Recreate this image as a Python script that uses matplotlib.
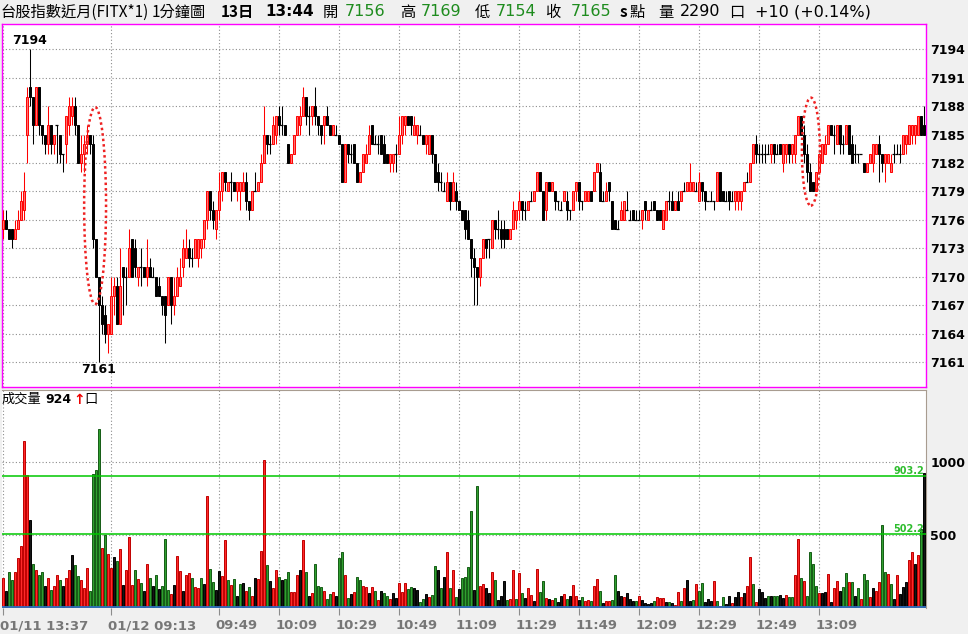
import matplotlib
matplotlib.use('Agg')
import matplotlib.pyplot as plt
import matplotlib.transforms as mtransforms
from matplotlib.patches import Ellipse
import numpy as np

# ---- 1-minute bars (01/11 13:37 .. 01/12 13:44) ----
opens = [
    7175, 7176, 7175, 7175, 7174, 7175, 7176, 7177, 7185, 7190,
    7189, 7186, 7190, 7186, 7185, 7184, 7186, 7184, 7186, 7185,
    7183, 7184, 7186, 7187, 7188, 7186, 7182, 7183, 7184, 7185,
    7184, 7174, 7170, 7167, 7166, 7164, 7164, 7168, 7169, 7165,
    7171, 7170, 7170, 7174, 7173, 7170, 7171, 7171, 7170, 7171,
    7170, 7170, 7169, 7168, 7168, 7167, 7170, 7167, 7168, 7169,
    7171, 7172, 7173, 7172, 7172, 7172, 7173, 7174, 7176, 7179,
    7177, 7175, 7177, 7179, 7181, 7179, 7180, 7180, 7179, 7179,
    7179, 7180, 7178, 7177, 7179, 7179, 7180, 7182, 7185, 7184,
    7184, 7185, 7187, 7186, 7186, 7184, 7182, 7183, 7185, 7186,
    7187, 7189, 7187, 7187, 7188, 7187, 7186, 7186, 7187, 7186,
    7185, 7185, 7185, 7184, 7180, 7184, 7183, 7184, 7182, 7180,
    7181, 7182, 7183, 7186, 7184, 7184, 7185, 7184, 7183, 7182,
    7182, 7183, 7183, 7185, 7186, 7187, 7187, 7185, 7185, 7185,
    7185, 7184, 7183, 7185, 7183, 7181, 7180, 7179, 7178, 7180,
    7178, 7179, 7178, 7177, 7177, 7176, 7174, 7172, 7171, 7170,
    7172, 7174, 7174, 7173, 7176, 7175, 7175, 7175, 7175, 7174,
    7175, 7176, 7177, 7178, 7177, 7177, 7178, 7178, 7179, 7181,
    7179, 7177, 7180, 7179, 7179, 7178, 7177, 7178, 7178, 7177,
    7177, 7179, 7180, 7178, 7178, 7178, 7179, 7179, 7181, 7181,
    7178, 7178, 7180, 7178, 7176, 7175, 7176, 7176, 7177, 7176,
    7177, 7176, 7176, 7176, 7178, 7176, 7177, 7178, 7177, 7177,
    7175, 7176, 7178, 7178, 7177, 7178, 7178, 7179, 7179, 7179,
    7179, 7179, 7178, 7180, 7179, 7178, 7178, 7178, 7178, 7181,
    7179, 7178, 7179, 7178, 7178, 7178, 7178, 7179, 7180, 7180,
    7182, 7184, 7183, 7183, 7183, 7183, 7183, 7184, 7183, 7184,
    7182, 7183, 7184, 7183, 7183, 7185, 7187, 7185, 7183, 7181,
    7180, 7179, 7181, 7182, 7183, 7184, 7186, 7185, 7184, 7186,
    7184, 7184, 7186, 7184, 7183, 7183, 7183, 7182, 7181, 7182,
    7182, 7183, 7184, 7183, 7182, 7182, 7181, 7183, 7183, 7183,
    7183, 7184, 7184, 7185, 7185, 7185, 7187, 7186]
highs = [
    7177, 7177, 7175, 7175, 7176, 7177, 7179, 7181, 7190, 7194,
    7189, 7190, 7190, 7186, 7185, 7188, 7186, 7185, 7186, 7185,
    7183, 7187, 7189, 7189, 7189, 7186, 7185, 7185, 7186, 7185,
    7185, 7174, 7170, 7168, 7167, 7165, 7170, 7170, 7170, 7173,
    7171, 7171, 7175, 7174, 7174, 7171, 7173, 7171, 7174, 7172,
    7171, 7170, 7170, 7168, 7168, 7170, 7170, 7170, 7171, 7172,
    7174, 7175, 7174, 7173, 7174, 7174, 7174, 7176, 7179, 7179,
    7178, 7177, 7181, 7181, 7181, 7180, 7181, 7180, 7180, 7180,
    7181, 7181, 7178, 7179, 7181, 7180, 7183, 7188, 7185, 7185,
    7187, 7187, 7188, 7188, 7186, 7184, 7183, 7185, 7187, 7188,
    7190, 7189, 7188, 7188, 7190, 7187, 7186, 7187, 7188, 7186,
    7186, 7186, 7185, 7184, 7184, 7184, 7184, 7184, 7182, 7181,
    7183, 7184, 7186, 7186, 7185, 7185, 7185, 7185, 7183, 7183,
    7183, 7184, 7187, 7187, 7187, 7187, 7187, 7187, 7186, 7186,
    7185, 7185, 7185, 7185, 7183, 7182, 7181, 7180, 7181, 7180,
    7181, 7180, 7178, 7177, 7177, 7177, 7174, 7173, 7171, 7172,
    7174, 7174, 7174, 7176, 7176, 7177, 7176, 7176, 7175, 7175,
    7178, 7177, 7179, 7178, 7178, 7178, 7179, 7179, 7181, 7181,
    7179, 7180, 7180, 7180, 7179, 7178, 7178, 7179, 7179, 7177,
    7179, 7180, 7180, 7178, 7179, 7179, 7179, 7181, 7182, 7182,
    7179, 7180, 7180, 7178, 7176, 7176, 7178, 7178, 7179, 7177,
    7177, 7177, 7177, 7177, 7178, 7177, 7178, 7178, 7177, 7177,
    7177, 7178, 7179, 7179, 7178, 7179, 7179, 7180, 7180, 7182,
    7180, 7180, 7181, 7180, 7179, 7178, 7179, 7178, 7181, 7181,
    7179, 7179, 7179, 7179, 7179, 7179, 7179, 7180, 7181, 7182,
    7184, 7185, 7184, 7184, 7184, 7184, 7184, 7184, 7184, 7184,
    7184, 7184, 7184, 7184, 7185, 7187, 7187, 7186, 7184, 7182,
    7180, 7181, 7183, 7184, 7185, 7186, 7186, 7186, 7186, 7186,
    7185, 7186, 7186, 7185, 7184, 7183, 7183, 7182, 7182, 7183,
    7184, 7184, 7185, 7183, 7183, 7183, 7183, 7184, 7184, 7184,
    7185, 7185, 7186, 7186, 7186, 7187, 7187, 7188]
lows = [
    7174, 7175, 7174, 7173, 7174, 7175, 7176, 7176, 7182, 7188,
    7184, 7186, 7185, 7184, 7183, 7183, 7183, 7183, 7182, 7182,
    7181, 7182, 7185, 7186, 7185, 7182, 7181, 7181, 7183, 7183,
    7173, 7170, 7161, 7164, 7163, 7162, 7164, 7166, 7165, 7165,
    7166, 7167, 7170, 7170, 7170, 7169, 7169, 7170, 7169, 7170,
    7170, 7168, 7168, 7166, 7163, 7167, 7165, 7166, 7168, 7169,
    7170, 7172, 7171, 7171, 7172, 7171, 7172, 7173, 7175, 7176,
    7175, 7174, 7176, 7178, 7179, 7179, 7178, 7179, 7178, 7177,
    7179, 7177, 7176, 7177, 7179, 7179, 7180, 7182, 7183, 7183,
    7184, 7184, 7185, 7185, 7185, 7182, 7182, 7183, 7185, 7185,
    7187, 7186, 7185, 7186, 7186, 7185, 7184, 7184, 7186, 7185,
    7185, 7185, 7184, 7180, 7180, 7182, 7182, 7182, 7180, 7180,
    7181, 7182, 7183, 7184, 7184, 7183, 7183, 7182, 7182, 7181,
    7181, 7181, 7183, 7184, 7185, 7186, 7185, 7185, 7184, 7185,
    7184, 7183, 7183, 7182, 7180, 7179, 7179, 7179, 7178, 7177,
    7178, 7177, 7177, 7176, 7174, 7174, 7170, 7167, 7167, 7169,
    7172, 7172, 7172, 7173, 7174, 7174, 7173, 7173, 7174, 7174,
    7175, 7175, 7176, 7176, 7176, 7177, 7178, 7178, 7179, 7179,
    7176, 7176, 7179, 7179, 7177, 7177, 7177, 7178, 7176, 7176,
    7177, 7178, 7177, 7177, 7178, 7178, 7178, 7179, 7181, 7178,
    7178, 7178, 7178, 7175, 7175, 7175, 7176, 7176, 7177, 7176,
    7176, 7176, 7176, 7175, 7176, 7176, 7177, 7177, 7176, 7176,
    7175, 7176, 7177, 7177, 7177, 7177, 7178, 7179, 7179, 7179,
    7179, 7179, 7178, 7178, 7177, 7178, 7178, 7177, 7178, 7178,
    7178, 7178, 7177, 7178, 7177, 7177, 7177, 7179, 7180, 7180,
    7182, 7182, 7182, 7182, 7182, 7183, 7182, 7182, 7183, 7183,
    7181, 7182, 7182, 7182, 7182, 7185, 7185, 7182, 7180, 7179,
    7179, 7179, 7181, 7182, 7183, 7184, 7185, 7183, 7184, 7183,
    7183, 7184, 7183, 7182, 7182, 7182, 7183, 7181, 7181, 7182,
    7181, 7183, 7180, 7181, 7180, 7182, 7181, 7182, 7183, 7182,
    7183, 7183, 7184, 7184, 7184, 7185, 7185, 7185]
closes = [
    7176, 7175, 7174, 7174, 7175, 7176, 7178, 7179, 7189, 7189,
    7186, 7190, 7186, 7185, 7184, 7186, 7184, 7185, 7186, 7183,
    7183, 7187, 7188, 7188, 7186, 7182, 7183, 7184, 7185, 7184,
    7174, 7170, 7167, 7165, 7164, 7165, 7168, 7169, 7165, 7169,
    7170, 7170, 7173, 7170, 7171, 7171, 7171, 7170, 7171, 7170,
    7170, 7168, 7168, 7167, 7166, 7170, 7167, 7168, 7170, 7170,
    7173, 7173, 7172, 7172, 7174, 7174, 7174, 7176, 7179, 7177,
    7176, 7177, 7179, 7181, 7180, 7180, 7180, 7179, 7180, 7180,
    7180, 7178, 7177, 7179, 7179, 7180, 7182, 7185, 7184, 7184,
    7186, 7187, 7186, 7186, 7185, 7182, 7183, 7185, 7187, 7187,
    7189, 7187, 7187, 7188, 7187, 7186, 7185, 7187, 7186, 7185,
    7186, 7185, 7184, 7180, 7184, 7183, 7183, 7182, 7180, 7181,
    7183, 7183, 7185, 7184, 7184, 7184, 7183, 7182, 7182, 7183,
    7183, 7183, 7185, 7187, 7187, 7186, 7186, 7186, 7186, 7185,
    7184, 7185, 7185, 7183, 7180, 7180, 7180, 7179, 7180, 7178,
    7180, 7178, 7177, 7176, 7175, 7174, 7172, 7171, 7170, 7172,
    7174, 7173, 7174, 7176, 7175, 7175, 7174, 7174, 7174, 7175,
    7177, 7177, 7178, 7177, 7177, 7178, 7178, 7179, 7181, 7179,
    7176, 7180, 7179, 7180, 7178, 7178, 7177, 7179, 7177, 7177,
    7179, 7180, 7178, 7178, 7179, 7179, 7178, 7181, 7182, 7178,
    7178, 7179, 7179, 7175, 7175, 7175, 7177, 7178, 7177, 7176,
    7176, 7176, 7176, 7177, 7177, 7177, 7177, 7177, 7176, 7176,
    7177, 7178, 7178, 7177, 7178, 7177, 7179, 7179, 7180, 7180,
    7180, 7179, 7180, 7179, 7178, 7178, 7178, 7178, 7181, 7178,
    7178, 7178, 7178, 7178, 7179, 7179, 7179, 7180, 7180, 7182,
    7184, 7183, 7183, 7183, 7183, 7183, 7184, 7183, 7183, 7183,
    7184, 7184, 7183, 7184, 7185, 7187, 7185, 7183, 7181, 7179,
    7179, 7181, 7183, 7184, 7184, 7186, 7185, 7185, 7186, 7184,
    7184, 7186, 7183, 7182, 7183, 7183, 7183, 7181, 7182, 7183,
    7184, 7184, 7183, 7182, 7183, 7183, 7182, 7183, 7183, 7183,
    7185, 7185, 7186, 7186, 7186, 7187, 7185, 7185]
volumes = [
    205, 113, 242, 189, 242, 343, 421, 1145, 911, 602,
    299, 258, 224, 242, 148, 205, 120, 148, 224, 189,
    148, 205, 258, 359, 292, 217, 189, 136, 273, 113,
    916, 946, 1228, 407, 499, 368, 273, 349, 320, 403,
    155, 258, 482, 155, 258, 196, 166, 113, 299, 201,
    148, 224, 127, 148, 471, 120, 90, 155, 354, 251,
    113, 224, 235, 205, 143, 132, 205, 162, 767, 265,
    173, 120, 251, 219, 464, 189, 155, 196, 79, 162,
    166, 113, 143, 81, 203, 194, 389, 1014, 292, 182,
    134, 258, 210, 189, 196, 242, 104, 104, 224, 258,
    464, 242, 79, 97, 299, 148, 141, 113, 58, 93,
    104, 79, 343, 382, 224, 65, 93, 107, 210, 189,
    148, 141, 100, 141, 113, 52, 113, 100, 79, 58,
    100, 65, 168, 107, 168, 127, 141, 134, 120, 38,
    58, 93, 72, 86, 285, 258, 134, 210, 382, 134,
    258, 72, 127, 203, 210, 280, 664, 120, 836, 148,
    161, 134, 100, 244, 189, 52, 79, 182, 52, 58,
    258, 58, 235, 100, 65, 134, 86, 45, 265, 107,
    182, 65, 58, 52, 65, 38, 79, 93, 58, 79,
    155, 79, 52, 72, 45, 52, 45, 148, 196, 113,
    31, 45, 45, 52, 224, 113, 79, 72, 100, 58,
    45, 45, 79, 52, 31, 24, 31, 45, 72, 65,
    65, 38, 38, 31, 17, 107, 45, 134, 189, 45,
    52, 161, 113, 168, 38, 58, 45, 182, 45, 10,
    72, 24, 79, 31, 72, 107, 72, 100, 148, 347,
    161, 38, 127, 107, 65, 79, 79, 79, 79, 86,
    65, 86, 72, 72, 224, 471, 205, 183, 79, 379,
    297, 148, 97, 102, 104, 228, 36, 132, 183, 113,
    141, 235, 178, 173, 81, 132, 58, 228, 189, 72,
    132, 113, 173, 565, 242, 228, 159, 56, 224, 91,
    141, 173, 327, 379, 297, 361, 538, 924]
# r = up tick, g = down tick, k = unchanged
vol_dir = (
    "r k g g r r r r r k  g r g g k r g r r g  k r r k g g r r r g "
    "g g g r g r r k g r  k r r r g r g k r g  k g k g g g r k r r "
    "k r r g r r g k r g  g k k r r g r g k g  k r g r k r r r g k "
    "r r g k g g r r r k  r g k r g g g r g g  r k g g r g k r g g "
    "r r k r g r k g g r  k k r r r g g k k g  g k r g g k g k r g "
    "r g k g g g g k g r  r k k r g k k k g r  r g r g k r r k r g "
    "g r k r g k k r g k  r r k g r r g r r g  k r r g g k k r k k "
    "k g r k k k k g r r  r k g k r r g r k k  g r g g k k k r g r "
    "g k k r k k r k r r  g r k k k g k g g k  k r g g r r g r g g "
    "g g r k k r k r r k  g g r g k g r g g r  k r r g g r g k r k "
    "k k r r k r g k").split()

tick_bars = [0, 36, 72, 92, 112, 132, 152, 172, 192, 212, 232, 252, 272]
tick_labels = ['01/11 13:37', '01/12 09:13', '09:49', '10:09', '10:29', '10:49',
               '11:09', '11:29', '11:49', '12:09', '12:29', '12:49', '13:09']
price_ticks = list(range(7161, 7195, 3))
vol_ticks = [500, 1000]
vol_avg = [903.2, 502.2]

header = [('台股指數近月(FITX*1)', 'black', 'normal'), ('1分鐘圖', 'black', 'normal'),
          ('13日', 'black', 'bold'), ('13:44', 'black', 'bold'),
          ('開', 'black', 'normal'), ('7156', '#1e8c1e', 'normal'),
          ('高', 'black', 'normal'), ('7169', '#1e8c1e', 'normal'),
          ('低', 'black', 'normal'), ('7154', '#1e8c1e', 'normal'),
          ('收', 'black', 'normal'), ('7165', '#1e8c1e', 'normal'),
          ('s', 'black', 'bold'), ('點', 'black', 'normal'),
          ('量', 'black', 'normal'), ('2290', 'black', 'normal'),
          ('口', 'black', 'normal'), ('+10 (+0.14%)', 'black', 'normal')]
header_x = [0, 152, 221, 265, 323, 345, 400, 421, 475, 496, 545, 571, 620, 630, 658, 680, 729, 755]

# ---- figure ----
W, H = 968, 634
CJK = ['Noto Sans CJK TC', 'DejaVu Sans']
LATIN = ['DejaVu Sans', 'Noto Sans CJK TC']
fig = plt.figure(figsize=(W / 100, H / 100), dpi=100, facecolor='#f0f0f0')


def px_axes(left, top, right, bottom):
    return fig.add_axes([left / W, 1 - bottom / H, (right - left) / W, (bottom - top) / H])


def px_text(x, y, s, **kw):
    return fig.text(x / W, 1 - y / H, s, ha='left', va='center', **kw)


ax = px_axes(2, 24, 926, 387)
axv = px_axes(2, 390, 926, 608)

o, h, l, c = (np.array(a, dtype=float) for a in (opens, highs, lows, closes))
idx = np.arange(len(c))
up, dn, fl = c > o, c < o, c == o

# candles
ax.vlines(idx[up], l[up], h[up], color='#ff0000', lw=0.75, zorder=3)
ax.vlines(idx[~up], l[~up], h[~up], color='black', lw=0.75, zorder=3)
ax.bar(idx[up], (c - o)[up], bottom=o[up], width=0.75, color='#ff7070',
       edgecolor='#ff0000', linewidth=0.7, zorder=4)
ax.bar(idx[dn], (o - c)[dn], bottom=c[dn], width=0.75, color='black',
       edgecolor='black', linewidth=0.7, zorder=4)
ax.hlines(c[fl], idx[fl] - 0.5, idx[fl] + 0.5, color='black', lw=0.9, zorder=4)

xlim = (-0.233, 307.77)
ax.set_xlim(*xlim)
ax.set_ylim(7158.36, 7196.67)
ax.set_xticks(tick_bars)
ax.tick_params(axis='x', length=0, labelbottom=False)
ax.set_yticks(price_ticks)
ax.yaxis.tick_right()
ax.tick_params(axis='y', length=0, pad=3, labelsize=9)
for t in ax.get_yticklabels():
    t.set_fontweight('bold')
ax.grid(True, color='#8c8c8c', linestyle=(0, (1, 2)), lw=0.8)
ax.set_axisbelow(True)
for s in ax.spines.values():
    s.set_color('#ff00ff')
    s.set_linewidth(1)

# high / low marks
hi, lo = int(np.argmax(h)), int(np.argmin(l))
ax.annotate(f'{int(h[hi])}', (hi, h[hi]), xytext=(0, 2), textcoords='offset points',
            ha='center', va='bottom', fontsize=9, fontweight='bold')
ax.annotate(f'{int(l[lo])}', (lo, l[lo]), xytext=(0, -1), textcoords='offset points',
            ha='center', va='top', fontsize=9, fontweight='bold')

# dotted red rings around the two sharp dips
for cx, cy, w, hh in [(30.8, 7177.5, 7.3, 20.8), (269.4, 7183.2, 6.0, 11.4)]:
    ax.add_patch(Ellipse((cx, cy), w, hh, fill=False, edgecolor='#ee2222',
                         linestyle=(0, (1, 1.2)), lw=1.8, zorder=6))

# volume
face = {'r': '#ff2a2a', 'g': '#2f9f2f', 'k': '#151515'}
edge = {'r': '#c00000', 'g': '#145c14', 'k': '#000000'}
axv.bar(idx, volumes, width=0.78, color=[face[d] for d in vol_dir],
        edgecolor=[edge[d] for d in vol_dir], linewidth=0.7, zorder=3)
for v in vol_avg:
    axv.axhline(v, color='#00c800', lw=1.1, zorder=4)
    axv.text(0.998, v, f'{v:.1f}', transform=axv.get_yaxis_transform(), ha='right',
             va='bottom', fontsize=7, fontweight='bold', color='#2ebd2e', zorder=5)
axv.axhline(0, color='#2f6fc0', lw=1.3, zorder=5)

axv.set_xlim(*xlim)
axv.set_ylim(-3.44, 1495.9)
axv.set_yticks(vol_ticks)
axv.yaxis.tick_right()
axv.tick_params(axis='y', length=0, pad=3, labelsize=9)
for t in axv.get_yticklabels():
    t.set_fontweight('bold')
axv.set_xticks(tick_bars)
axv.set_xticklabels(tick_labels, ha='left')
axv.tick_params(axis='x', length=5, width=0.8, color='#8c8c8c', pad=3,
                labelsize=9.5, labelcolor='#777777')
shift = mtransforms.ScaledTranslation(-3 / 100, 0, fig.dpi_scale_trans)
for t in axv.get_xticklabels():
    t.set_fontweight('bold')
    t.set_transform(t.get_transform() + shift)
axv.grid(True, color='#8c8c8c', linestyle=(0, (1, 2)), lw=0.8)
axv.set_axisbelow(True)
axv.spines['left'].set_visible(False)
axv.spines['bottom'].set_visible(False)
axv.spines['top'].set_color('#a89c90')
axv.spines['right'].set_color('#a89c90')

# volume caption
px_text(2, 399.5, '成交量', fontsize=9.5, family=CJK)
px_text(45, 399.5, f'{volumes[-1]}', fontsize=9, fontweight='bold')
px_text(73, 399.5, '↑', fontsize=10, fontweight='bold', color='#ee0000')
px_text(84, 399.5, '口', fontsize=9.5, family=CJK)

# header line: CJK words in the CJK face, numbers in a wider latin face
for x, (s, col, wt) in zip(header_x, header):
    latin = s.isascii() and s != 's'
    px_text(x, 12, s, fontsize=(11.5 if wt == 'normal' else 11) if latin else 11,
            color=col, fontweight=wt, family=LATIN if latin else CJK)

fig.savefig('out.png', dpi=100, facecolor=fig.get_facecolor())
